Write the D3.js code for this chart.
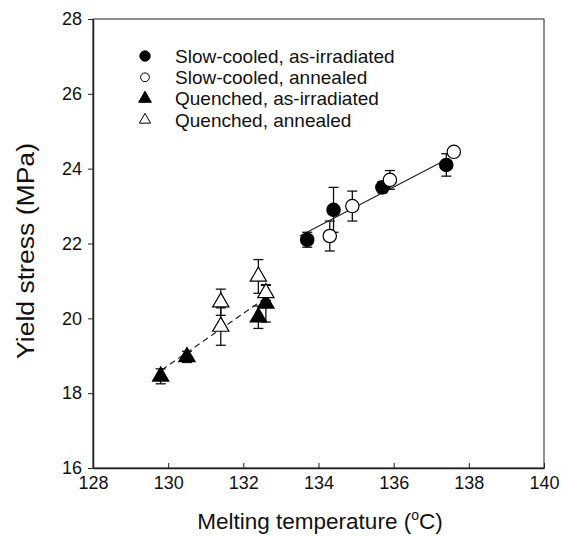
<!DOCTYPE html>
<html>
<head>
<meta charset="utf-8">
<script src="https://cdn.jsdelivr.net/npm/d3@7"></script>
<style>
  body { margin: 0; background: #fff; }
  text { font-family: "Liberation Sans", Arial, sans-serif; fill: #111; }
</style>
</head>
<body>
<svg id="chart" width="561" height="536"></svg>
<script>
// data: [melting temp, yield stress, error]
const slowIrr = [[133.7, 22.1, 0.2], [134.4, 22.9, 0.6], [135.7, 23.5, 0.15], [137.4, 24.1, 0.3]];
const slowAnn = [[134.3, 22.2, 0.4], [134.9, 23.0, 0.4], [135.9, 23.7, 0.25], [137.6, 24.45, 0.1]];
const quenIrr = [[129.8, 18.45, 0.2], [130.5, 18.97, 0.15], [132.4, 20.03, 0.3], [132.6, 20.4, 0.5]];
const quenAnn = [[131.4, 20.43, 0.35], [131.4, 19.78, 0.5], [132.4, 21.12, 0.45], [132.6, 20.68, 0.2]];
const slowFit = [[133.5, 22.2], [137.47, 24.28]];
const quenFit = [[129.83, 18.62], [132.63, 20.57]];
const xTicks = [128, 130, 132, 134, 136, 138, 140];
const yTicks = [16, 18, 20, 22, 24, 26, 28];
const legendLabels = ['Slow-cooled, as-irradiated', 'Slow-cooled, annealed', 'Quenched, as-irradiated', 'Quenched, annealed'];

const svg = d3.select('#chart');
const plotLeft = 93, plotRight = 544, plotTop = 19, plotBottom = 468;

const x = d3.scaleLinear().domain([128, 140]).range([plotLeft, plotRight]);
const y = d3.scaleLinear().domain([16, 28]).range([plotBottom, plotTop]);

/* frame */
svg.append('rect')
  .attr('x', plotLeft).attr('y', plotTop)
  .attr('width', plotRight - plotLeft).attr('height', plotBottom - plotTop)
  .attr('fill', 'none').attr('stroke', '#222').attr('stroke-width', 1);

/* axes */
const xAxis = svg.append('g')
  .attr('transform', `translate(0,${plotBottom})`)
  .call(d3.axisBottom(x).tickValues(xTicks).tickSizeInner(-5).tickSizeOuter(0).tickPadding(8));
const yAxis = svg.append('g')
  .attr('transform', `translate(${plotLeft},0)`)
  .call(d3.axisLeft(y).tickValues(yTicks).tickSize(5).tickSizeOuter(0).tickPadding(6));

[xAxis, yAxis].forEach(g => {
  g.select('.domain').attr('stroke', '#222').attr('stroke-width', 1.5);
  g.selectAll('.tick line').attr('stroke', '#222');
  g.selectAll('.tick text').attr('font-size', 18).attr('fill', '#111')
    .attr('font-family', '"Liberation Sans", Arial, sans-serif');
});
xAxis.selectAll('.tick text').attr('dy', '0.71em');

/* axis titles */
const xt = svg.append('text')
  .attr('x', 320).attr('y', 529)
  .attr('text-anchor', 'middle').attr('font-size', 22.5);
xt.append('tspan').text('Melting temperature (');
xt.append('tspan').attr('font-size', 14).attr('dy', -9).text('o');
xt.append('tspan').attr('dy', 9).text('C)');

svg.append('text')
  .attr('transform', 'translate(34,251) rotate(-90)')
  .attr('text-anchor', 'middle').attr('font-size', 23)
  .attr('textLength', 216).attr('lengthAdjust', 'spacingAndGlyphs')
  .text('Yield stress (MPa)');

/* fit lines */
const line = d3.line().x(d => x(d[0])).y(d => y(d[1]));
svg.append('path').attr('d', line(slowFit))
  .attr('fill', 'none').attr('stroke', '#222').attr('stroke-width', 1.2);
svg.append('path').attr('d', line(quenFit))
  .attr('fill', 'none').attr('stroke', '#222').attr('stroke-width', 1.2)
  .attr('stroke-dasharray', '6,4');

/* error bars */
const allSeries = [slowIrr, slowAnn, quenIrr, quenAnn];
const errG = svg.append('g').attr('stroke', '#111').attr('stroke-width', 1.3);
allSeries.forEach(series => {
  series.forEach(d => {
    const cx = x(d[0]);
    const y1 = y(d[1] + d[2]);
    const y2 = y(d[1] - d[2]);
    errG.append('line').attr('x1', cx).attr('x2', cx).attr('y1', y1).attr('y2', y2);
    errG.append('line').attr('x1', cx - 5).attr('x2', cx + 5).attr('y1', y1).attr('y2', y1);
    errG.append('line').attr('x1', cx - 5).attr('x2', cx + 5).attr('y1', y2).attr('y2', y2);
  });
});

/* markers */
const circleSym = d3.symbol().type(d3.symbolCircle).size(140);
const triSym = d3.symbol().type(d3.symbolTriangle).size(115);
const styles = [
  { sym: circleSym, fill: '#000' },
  { sym: circleSym, fill: '#fff' },
  { sym: triSym, fill: '#000' },
  { sym: triSym, fill: '#fff' }
];

allSeries.forEach((series, i) => {
  svg.append('g').selectAll('path')
    .data(series)
    .join('path')
    .attr('d', styles[i].sym())
    .attr('transform', d => `translate(${x(d[0])},${y(d[1])})`)
    .attr('fill', styles[i].fill)
    .attr('stroke', '#000')
    .attr('stroke-width', 1.2);
});

/* legend */
const legendSym = [
  d3.symbol().type(d3.symbolCircle).size(85),
  d3.symbol().type(d3.symbolCircle).size(60),
  d3.symbol().type(d3.symbolTriangle).size(70),
  d3.symbol().type(d3.symbolTriangle).size(55)
];
const legend = svg.append('g');
legendLabels.forEach((label, i) => {
  const ly = 56 + i * 21.3;
  legend.append('path')
    .attr('d', legendSym[i]())
    .attr('transform', `translate(145,${ly})`)
    .attr('fill', styles[i].fill)
    .attr('stroke', '#000')
    .attr('stroke-width', 1);
  legend.append('text')
    .attr('x', 175).attr('y', ly)
    .attr('dy', '0.35em')
    .attr('font-size', 19)
    .text(label);
});
</script>
</body>
</html>
